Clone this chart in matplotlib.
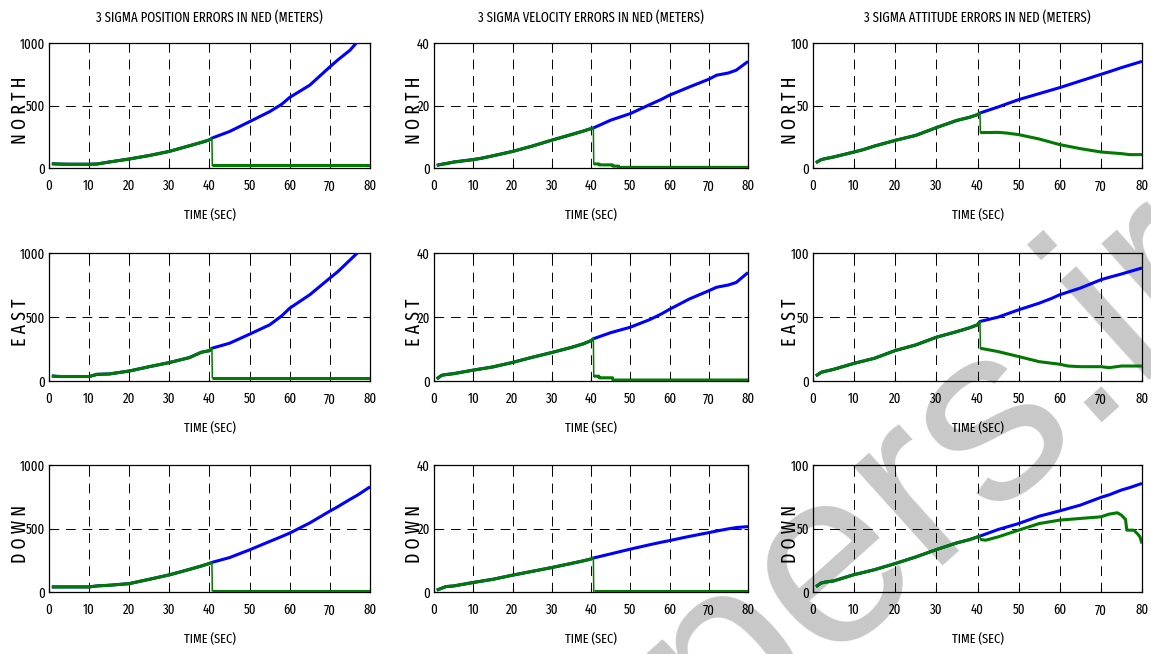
import matplotlib
matplotlib.use("Agg")
import matplotlib.pyplot as plt
from matplotlib import font_manager as fm

# ---------------------------------------------------------------- data
# shared time base before the fix (both filters identical) and after it
T_PRE = [0.7, 2, 3, 5, 10, 12, 15, 20, 25, 30, 35, 38, 40, 40.6]
T_POST = [40.6, 45, 50, 55, 58, 60, 65, 70, 72, 75, 77, 80]

# position (m)
pos_north_pre = [34, 32, 31, 30, 30, 32, 48, 72, 100, 133, 178, 205, 225, 239]
pos_north_free = [239, 292, 371, 451, 510, 565, 663, 809, 865, 942, 1015, 1120]
pos_north_fix_t = [40.7, 80]
pos_north_fix = [21, 21]

pos_east_pre = [39, 36, 35, 35, 35, 52, 55, 78, 112, 144, 183, 225, 237, 256]
pos_east_free = [256, 295, 366, 439, 509, 569, 674, 804, 855, 945, 1005, 1110]
pos_east_fix_t = [40.7, 80]
pos_east_fix = [26, 26]

pos_down_pre = [40, 40, 40, 40, 40, 48, 53, 66, 100, 135, 178, 205, 225, 233]
pos_down_free = [233, 271, 332, 398, 437, 464, 544, 637, 672, 729, 765, 828]
pos_down_fix_t = [40.7, 80]
pos_down_fix = [10, 10]

# velocity
vel_north_pre = [0.85, 1.2, 1.4, 1.9, 2.7, 3.1, 3.9, 5.3, 7.0, 8.9, 10.7, 11.8, 12.6, 12.8]
vel_north_free = [12.8, 15.3, 17.4, 20.3, 22.0, 23.3, 25.9, 28.4, 29.7, 30.4, 31.3, 34.1]
vel_north_fix_t = [40.7, 42, 42.1, 45.5, 45.6, 47, 47.1, 80]
vel_north_fix = [1.3, 1.3, 1.0, 1.0, 0.6, 0.6, 0.2, 0.2]

vel_east_pre = [0.7, 1.8, 2.0, 2.3, 3.4, 3.8, 4.4, 5.8, 7.4, 8.9, 10.5, 11.6, 12.6, 13.2]
vel_east_free = [13.2, 15.1, 16.8, 19.2, 21.0, 22.4, 25.6, 28.2, 29.3, 30.0, 30.8, 33.9]
vel_east_fix_t = [40.7, 42, 42.1, 45.5, 45.6, 80]
vel_east_fix = [1.5, 1.5, 1.0, 1.0, 0.3, 0.3]

vel_down_pre = [0.6, 1.2, 1.7, 1.9, 3.0, 3.4, 4.0, 5.3, 6.5, 7.7, 9.0, 9.8, 10.4, 10.7]
vel_down_free = [10.7, 12.0, 13.5, 14.9, 15.7, 16.2, 17.5, 18.7, 19.2, 19.9, 20.3, 20.6]
vel_down_fix_t = [40.7, 80]
vel_down_fix = [0.2, 0.2]

# attitude
att_north_pre = [4.3, 6.7, 7.5, 8.8, 12.8, 14.5, 17.6, 22.1, 26.1, 32.3, 38.1, 40.5, 42.7, 44.0]
att_north_free = [44.0, 48.8, 54.7, 59.5, 62.4, 64.3, 69.6, 74.9, 77.0, 80.3, 82.3, 85.3]
att_north_fix_t = [40.7, 45, 47, 50, 55, 60, 65, 70, 75, 77, 80]
att_north_fix = [28.3, 28.5, 28.0, 26.7, 23.2, 18.7, 15.5, 12.8, 11.5, 10.7, 10.7]

att_east_pre = [4.0, 6.8, 7.6, 9.1, 13.8, 15.4, 17.8, 23.8, 28.2, 34.2, 38.6, 41.5, 43.9, 46.5]
att_east_free = [46.5, 49.9, 55.6, 60.8, 64.5, 67.4, 72.6, 79.1, 81.0, 83.6, 85.5, 88.3]
att_east_fix_t = [40.7, 45, 50, 55, 60, 62, 65, 70, 72, 75, 80]
att_east_fix = [25.6, 23.0, 19.1, 15.1, 13.1, 11.7, 11.2, 11.2, 10.4, 11.7, 11.7]

att_down_pre = [4.2, 7.1, 7.8, 8.7, 13.7, 15.2, 17.6, 22.4, 27.6, 33.4, 38.7, 41.2, 43.4, 44.0]
att_down_free = [44.0, 49.2, 53.9, 59.7, 62.2, 63.9, 68.4, 74.5, 76.5, 80.3, 82.2, 85.5]
att_down_fix_t = [40.7, 42, 45, 50, 55, 60, 65, 70, 72, 74, 75, 76, 76.3, 78, 79, 79.5, 80]
att_down_fix = [41.3, 40.8, 43.4, 48.7, 53.9, 56.6, 57.9, 59.2, 61.3, 62.4, 60.5, 57.1,
                48.7, 48.7, 45.5, 43.4, 38.2]

titles = ["3 SIGMA POSITION ERRORS IN NED (METERS)",
          "3 SIGMA VELOCITY ERRORS IN NED (METERS)",
          "3 SIGMA ATTITUDE ERRORS IN NED (METERS)"]
row_labels = ["N O R T H", "E A S T", "D O W N"]
y_limits = [1000, 40, 100]
x_ticks = [0, 10, 20, 30, 40, 50, 60, 70, 80]
x_label = "TIME (SEC)"
watermark = "Papers.ir"

panels = [
    [(pos_north_pre, pos_north_free, pos_north_fix_t, pos_north_fix),
     (vel_north_pre, vel_north_free, vel_north_fix_t, vel_north_fix),
     (att_north_pre, att_north_free, att_north_fix_t, att_north_fix)],
    [(pos_east_pre, pos_east_free, pos_east_fix_t, pos_east_fix),
     (vel_east_pre, vel_east_free, vel_east_fix_t, vel_east_fix),
     (att_east_pre, att_east_free, att_east_fix_t, att_east_fix)],
    [(pos_down_pre, pos_down_free, pos_down_fix_t, pos_down_fix),
     (vel_down_pre, vel_down_free, vel_down_fix_t, vel_down_fix),
     (att_down_pre, att_down_free, att_down_fix_t, att_down_fix)],
]


# ---------------------------------------------------------------- fonts
def narrow_font_file():
    """Return the path of the narrowest regular sans face available, or None."""
    bad = ("bold", "italic", "oblique", "light", "black", "thin", "medium",
           "semibold", "heavy", "mono", "serif", "display")
    best = None
    for f in fm.fontManager.ttflist:
        key = (f.name + " " + str(f.stretch) + " " + f.fname.split("/")[-1]).lower()
        if any(b in key.replace("sans serif", "") for b in bad):
            continue
        k = key.replace("-", "").replace(" ", "")
        if "ultracondensed" in k or "extracondensed" in k:
            rank = 0
        elif "narrow" in k:
            rank = 1
        elif "semicondensed" in k:
            rank = 3
        elif "condensed" in k:
            rank = 2
        else:
            continue
        if best is None or rank < best[0]:
            best = (rank, f.fname)
    return best[1] if best else None


NARROW = narrow_font_file()


def font(size):
    if NARROW:
        return fm.FontProperties(fname=NARROW, size=size)
    return fm.FontProperties(family="Liberation Sans", size=size)


# ---------------------------------------------------------------- layout
W, H = 1151, 654
fig = plt.figure(figsize=(W / 100, H / 100), dpi=100)
fig.patch.set_facecolor("white")

col_px = [(49, 370), (434, 748), (813, 1142)]
row_px = [(43, 168), (253, 381), (465, 592)]
ylabel_dx = [29, 20, 23]          # pixels left of each column's axes

BLUE = "#0000ff"
GREEN = "#007a00"
LW = 2.2

for r in range(3):
    for c in range(3):
        x0, x1 = col_px[c]
        y0, y1 = row_px[r]
        ax = fig.add_axes([x0 / W, 1 - y1 / H, (x1 - x0) / W, (y1 - y0) / H])
        ax.set_facecolor("none")
        pre, free, fix_t, fix = panels[r][c]

        ax.plot(T_PRE + T_POST[1:], pre + free[1:], color=BLUE, lw=LW,
                solid_capstyle="butt", zorder=3)
        ax.plot(T_PRE, pre, color=GREEN, lw=LW, solid_capstyle="butt", zorder=4)
        ax.plot([T_PRE[-1], fix_t[0]], [pre[-1], fix[0]], color=GREEN, lw=1.1, zorder=4)
        ax.plot(fix_t, fix, color=GREEN, lw=LW, solid_capstyle="butt", zorder=4)

        ymax = y_limits[c]
        ax.set_xlim(0, 80)
        ax.set_ylim(0, ymax)
        ax.set_xticks(x_ticks)
        ax.set_yticks([0, ymax / 2, ymax])
        ax.set_yticklabels([f"{v:g}" for v in (0, ymax / 2, ymax)])
        ax.tick_params(direction="in", length=3, width=0.8, top=True, right=True)
        ax.tick_params(axis="y", pad=3)
        ax.tick_params(axis="x", pad=8)
        for lbl in ax.get_xticklabels() + ax.get_yticklabels():
            lbl.set_fontproperties(font(10))
        ax.grid(True, color="black", linestyle=(0, (10, 7)), linewidth=0.7)
        for s in ax.spines.values():
            s.set_linewidth(0.9)

        ax.set_xlabel(x_label, fontproperties=font(9.7))
        ax.xaxis.label.set_va("center")
        ax.xaxis.set_label_coords(0.5, -47 / (y1 - y0))

        ax.set_ylabel(row_labels[r], fontproperties=font(14))
        ax.yaxis.set_label_coords(-ylabel_dx[c] / (x1 - x0), 0.46)
        ax.yaxis.label.set_va("center")

        if r == 0:
            ax.set_title(titles[c], fontproperties=font(10), pad=15)

# watermark, sitting underneath the transparent axes
fig.text(0.7124, 0.128, watermark, rotation=42, rotation_mode="anchor",
         fontsize=180, color="#c8c8c8", ha="center", va="center",
         family="Liberation Sans", zorder=-10)

fig.savefig("out.png", dpi=100)
